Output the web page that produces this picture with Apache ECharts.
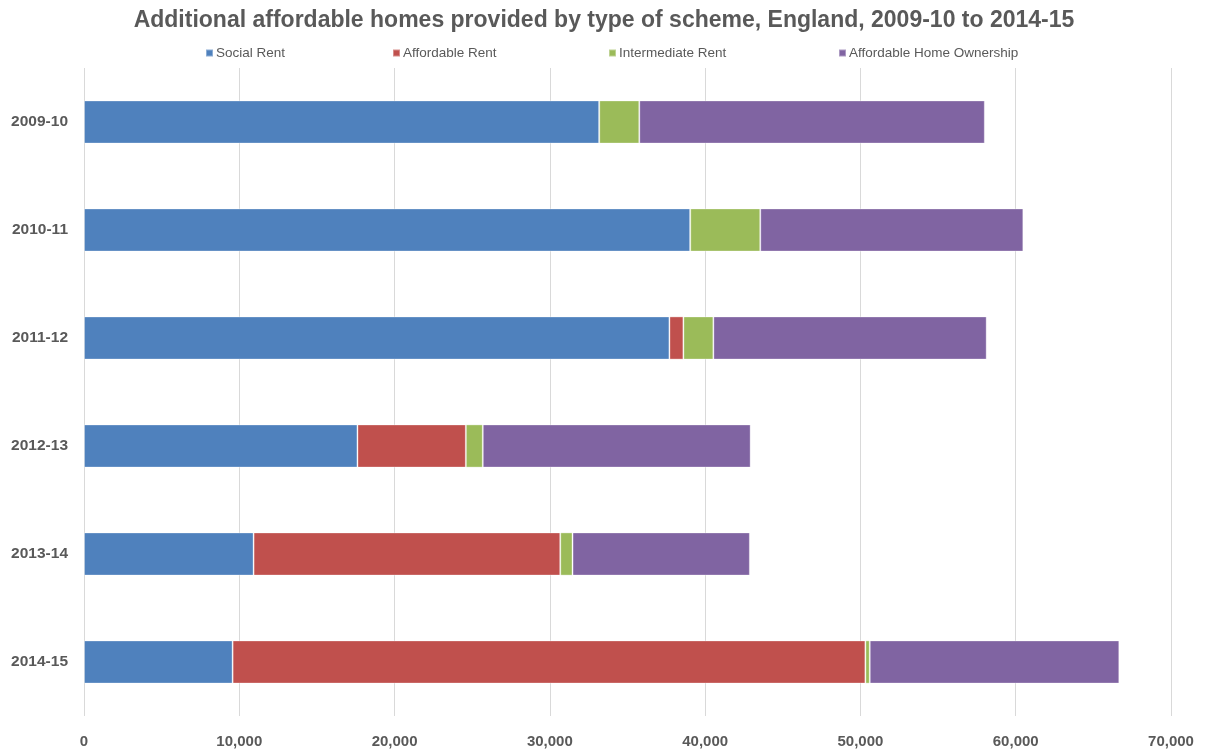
<!DOCTYPE html>
<html>
<head>
<meta charset="utf-8">
<script src="https://cdn.jsdelivr.net/npm/echarts@6/dist/echarts.min.js"></script>
<style>
  html, body { margin: 0; padding: 0; background: #fff; }
  #chart { width: 1208px; height: 749px; }
</style>
</head>
<body>
<div id="chart"></div>
<script>
// Financial years (top to bottom)
const years = ['2009-10', '2010-11', '2011-12', '2012-13', '2013-14', '2014-15'];

// Additional affordable homes by scheme type
const socialRent = [33180, 39040, 37700, 17610, 10920, 9570];
const affordableRent = [0, 0, 900, 6980, 19750, 40750];
const intermediateRent = [2580, 4510, 1930, 1090, 790, 280];
const homeOwnership = [22250, 16940, 17600, 17250, 11420, 16070];

const seriesNames = ['Social Rent', 'Affordable Rent', 'Intermediate Rent', 'Affordable Home Ownership'];
const seriesData = [socialRent, affordableRent, intermediateRent, homeOwnership];
const colors = ['#4F81BD', '#C0504D', '#9BBB59', '#8064A2'];
const legendLeft = [205, 392, 608, 838];

const textColor = '#595959';
const sans = '"Liberation Sans", Arial, sans-serif';

const chart = echarts.init(document.getElementById('chart'), null, { renderer: 'canvas' });

chart.setOption({
  animation: false,
  color: colors,
  title: {
    text: 'Additional affordable homes provided by type of scheme, England, 2009-10 to 2014-15',
    left: 'center',
    top: 4,
    textStyle: {
      fontFamily: sans,
      fontWeight: 'bold',
      fontSize: 23,
      color: textColor
    }
  },
  legend: seriesNames.map((name, i) => ({
    data: [name],
    left: legendLeft[i],
    top: 46,
    icon: 'rect',
    itemWidth: 7,
    itemHeight: 7,
    itemGap: 0,
    padding: 0,
    textStyle: { fontFamily: sans, fontSize: 13.5, color: textColor, padding: [0, 0, 0, -2] }
  })),
  grid: {
    left: 84,
    right: 37,
    top: 68,
    bottom: 32,
    containLabel: false
  },
  xAxis: {
    type: 'value',
    min: 0,
    max: 70000,
    interval: 10000,
    axisLine: { show: false },
    axisTick: { show: false },
    splitLine: { show: true, lineStyle: { color: '#D9D9D9', width: 1 } },
    axisLabel: {
      margin: 18,
      fontFamily: sans,
      fontWeight: 'bold',
      fontSize: 15,
      color: textColor,
      formatter: v => v.toLocaleString('en-GB')
    }
  },
  yAxis: {
    type: 'category',
    data: years,
    inverse: true,
    axisLine: { show: false },
    axisTick: { show: false },
    splitLine: { show: false },
    axisLabel: {
      margin: 16,
      fontFamily: sans,
      fontWeight: 'bold',
      fontSize: 15.5,
      color: textColor
    }
  },
  series: seriesNames.map((name, i) => ({
    name: name,
    type: 'bar',
    stack: 'total',
    data: seriesData[i],
    barWidth: '40%',
    itemStyle: {
      color: colors[i],
      borderColor: 'rgba(255,255,255,0.35)',
      borderWidth: 1
    },
    emphasis: { disabled: true }
  }))
});
</script>
</body>
</html>
